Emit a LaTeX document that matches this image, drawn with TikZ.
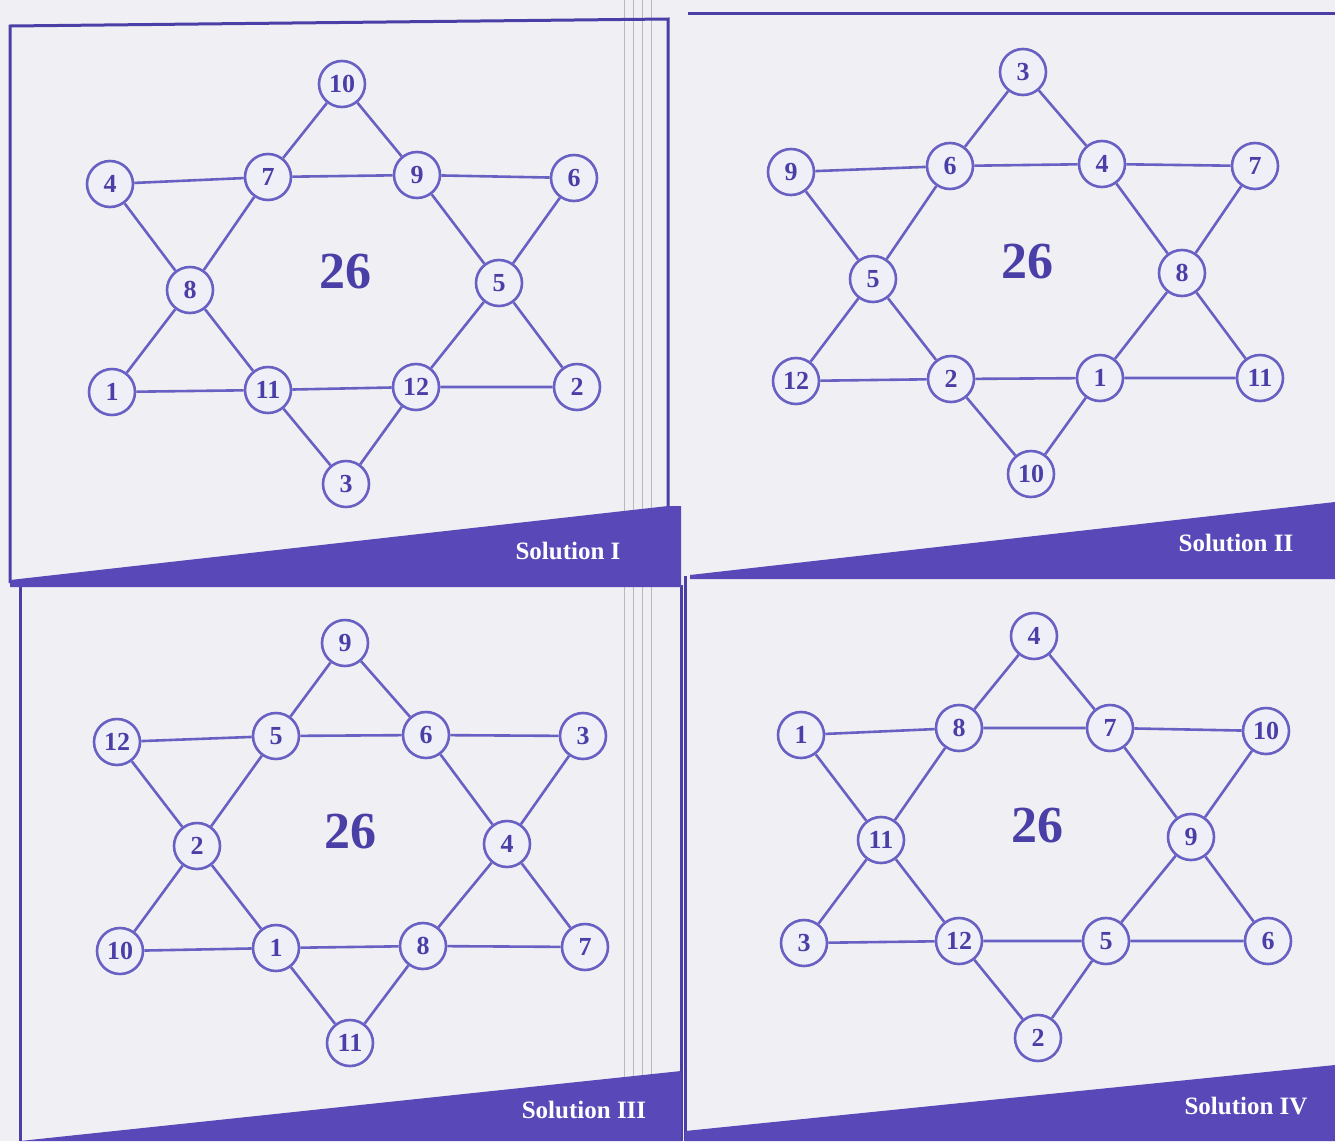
\documentclass[tikz,border=0pt]{standalone}
\usepackage{fontspec}
\setmainfont{Liberation Serif}
\definecolor{ink}{HTML}{4A3FA6}
\definecolor{edgec}{HTML}{6860C2}
\definecolor{fillc}{HTML}{EFEFF8}
\definecolor{bandc}{HTML}{5848B8}
\definecolor{paper}{HTML}{F0F0F4}
\newcommand\hexedges[1]{%
 \draw[edge] (#1UL)--(#1UIL) (#1UIL)--(#1UIR) (#1UIR)--(#1UR)
  (#1LL)--(#1LIL) (#1LIL)--(#1LIR) (#1LIR)--(#1LR)
  (#1T)--(#1UIL) (#1UIL)--(#1ML) (#1ML)--(#1LL)
  (#1T)--(#1UIR) (#1UIR)--(#1MR) (#1MR)--(#1LR)
  (#1UL)--(#1ML) (#1ML)--(#1LIL) (#1LIL)--(#1B)
  (#1UR)--(#1MR) (#1MR)--(#1LIR) (#1LIR)--(#1B);}
\begin{document}
\begin{tikzpicture}[x=1pt,y=-1pt,
 num/.style={circle, draw=edgec, line width=2.6pt, fill=fillc, minimum size=46pt, inner sep=0pt, text=ink, font=\fontsize{26}{26}\selectfont\bfseries},
 edge/.style={draw=edgec, line width=2.6pt},
 total/.style={text=ink, font=\fontsize{52}{52}\selectfont\bfseries},
 bandfill/.style={fill=bandc},
 bandtext/.style={text=white, font=\fontsize{25}{25}\selectfont\bfseries},
 frame/.style={draw=ink, line width=3pt},
 gutter/.style={draw=gray!55, line width=0.9pt}]
\useasboundingbox (0,0) rectangle (1335,1141);
\fill[paper] (0,0) rectangle (1335,1141);
% gutter lines
\foreach \gx in {624,633,642,651} {\draw[gutter] (\gx,0) -- (\gx,1141);}
% frames
\draw[frame] (10,583) -- (10,26) -- (668,19) -- (668,583);
\draw[frame] (688,13) -- (1335,13);
\draw[frame] (20,585) -- (20,1141);
\draw[frame] (681,585) -- (681,1141);
\draw[frame] (685,576) -- (685,1141);
% banners
\fill[bandfill] (10,580) -- (668,506) -- (681,506) -- (681,587) -- (10,587) -- cycle;
\fill[bandfill] (690,575) -- (1335,502) -- (1335,579) -- (690,579) -- cycle;
\fill[bandfill] (20,1141) -- (681,1071) -- (681,1141) -- cycle;
\fill[bandfill] (685,1131) -- (1335,1065) -- (1335,1141) -- (685,1141) -- cycle;
\node[bandtext] (s1) at (568,551) {Solution I};
\node[bandtext] (s2) at (1236,543) {Solution II};
\node[bandtext] (s3) at (584,1110) {Solution III};
\node[bandtext] (s4) at (1246,1106) {Solution IV};
% Panel I
\node[num] (aT) at (342,84) {10};
\node[num] (aUL) at (110,184) {4};
\node[num] (aUIL) at (268,177) {7};
\node[num] (aUIR) at (417,175) {9};
\node[num] (aUR) at (574,178) {6};
\node[num] (aML) at (190,290) {8};
\node[num] (aMR) at (499,283) {5};
\node[num] (aLL) at (112,392) {1};
\node[num] (aLIL) at (268,390) {11};
\node[num] (aLIR) at (416,387) {12};
\node[num] (aLR) at (577,387) {2};
\node[num] (aB) at (346,484) {3};
\node[total] (aS) at (345,272) {26};
\hexedges{a}
% Panel II
\node[num] (bT) at (1023,72) {3};
\node[num] (bUL) at (791,172) {9};
\node[num] (bUIL) at (950,166) {6};
\node[num] (bUIR) at (1102,164) {4};
\node[num] (bUR) at (1255,166) {7};
\node[num] (bML) at (873,279) {5};
\node[num] (bMR) at (1182,273) {8};
\node[num] (bLL) at (796,381) {12};
\node[num] (bLIL) at (951,379) {2};
\node[num] (bLIR) at (1100,378) {1};
\node[num] (bLR) at (1260,378) {11};
\node[num] (bB) at (1031,474) {10};
\node[total] (bS) at (1027,262) {26};
\hexedges{b}
% Panel III
\node[num] (cT) at (345,643) {9};
\node[num] (cUL) at (117,742) {12};
\node[num] (cUIL) at (276,736) {5};
\node[num] (cUIR) at (426,735) {6};
\node[num] (cUR) at (583,736) {3};
\node[num] (cML) at (197,846) {2};
\node[num] (cMR) at (507,844) {4};
\node[num] (cLL) at (120,951) {10};
\node[num] (cLIL) at (276,948) {1};
\node[num] (cLIR) at (423,946) {8};
\node[num] (cLR) at (585,947) {7};
\node[num] (cB) at (350,1043) {11};
\node[total] (cS) at (350,832) {26};
\hexedges{c}
% Panel IV
\node[num] (dT) at (1034,636) {4};
\node[num] (dUL) at (801,735) {1};
\node[num] (dUIL) at (959,728) {8};
\node[num] (dUIR) at (1110,728) {7};
\node[num] (dUR) at (1266,731) {10};
\node[num] (dML) at (881,840) {11};
\node[num] (dMR) at (1191,837) {9};
\node[num] (dLL) at (804,943) {3};
\node[num] (dLIL) at (959,941) {12};
\node[num] (dLIR) at (1106,941) {5};
\node[num] (dLR) at (1268,941) {6};
\node[num] (dB) at (1038,1038) {2};
\node[total] (dS) at (1037,826) {26};
\hexedges{d}
\end{tikzpicture}
\end{document}
